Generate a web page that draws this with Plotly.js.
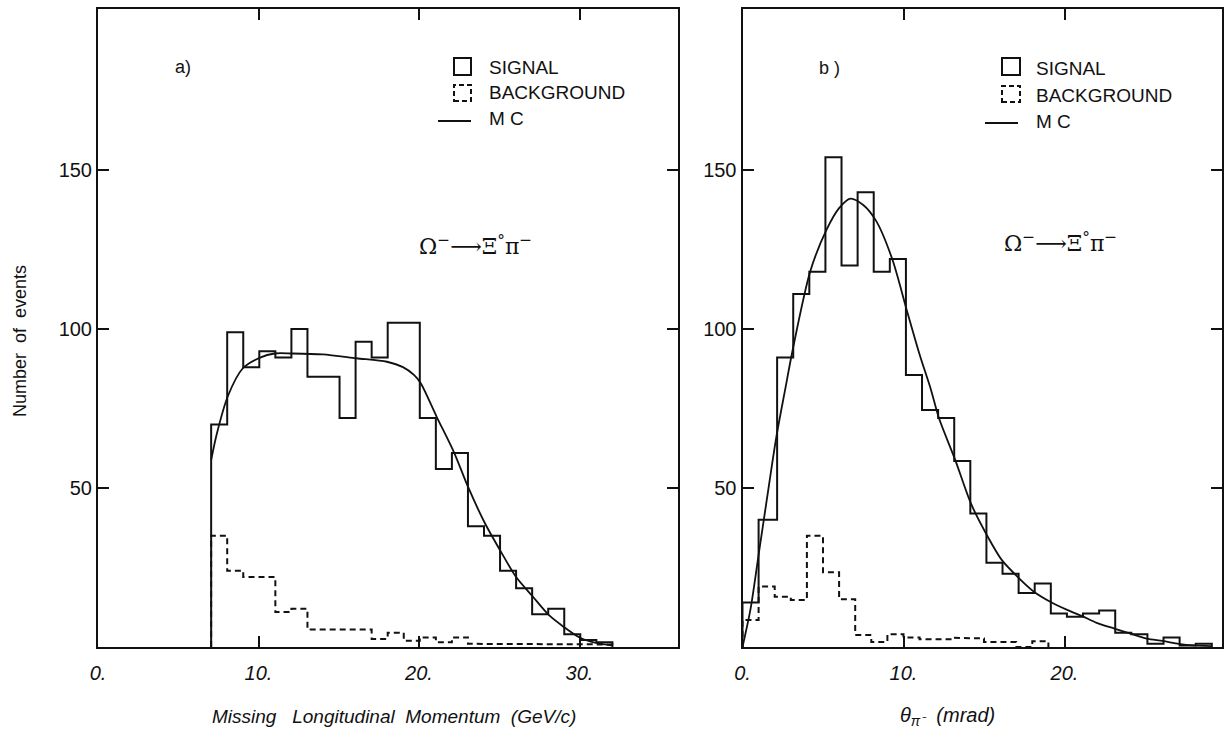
<!DOCTYPE html>
<html>
<head>
<meta charset="utf-8">
<script src="https://cdn.plot.ly/plotly-3.0.1.min.js"></script>
<style>html,body{margin:0;padding:0;background:#fff;}#chart{width:1224px;height:735px;}</style>
</head>
<body>
<div id="chart"></div>
<script>
// ---------- Panel a: missing longitudinal momentum (GeV/c) ----------
const aBinEdges = [7.05,8.05,9.05,10.05,11.05,12.05,13.05,14.05,15.05,16.05,17.05,18.05,19.05,20.05,21.05,22.05,23.05,24.05,25.05,26.05,27.05,28.05,29.05,30.05,31.05,32.05];
const aSignal = [70,99,88,93,91,100,85,85,72,96,91,102,102,72,56,61,38,35,24,18.5,10.3,12,4,2.2,1.5];
const aBackground = [35,24,22,22,11,12,5.5,5.5,5.5,5.5,2.5,4.5,2,3,1.5,3,1,0.8,0.8,0.8,0.8,0.8,0.8,0.8,0.8];
const aMCx = [7.06,7.4,8.1,9.0,10.1,11.0,12.1,14.0,16.1,18.0,19.0,19.7,20.1,21.1,22.2,23.05,24.1,25.1,26.05,27.1,28.1,29.0,30.0,31.1,32.0];
const aMCy = [59,67,79,87.5,91,92.3,92.3,92,90.8,89.7,88,85.5,83,72.4,61,50.4,39,30,22,15.8,10,6.4,3,1.2,0.5];

// ---------- Panel b: pion angle (mrad) ----------
const bSignalEdges = [0,1,2.15,3.15,4.15,5.15,6.15,7.15,8.15,9.15,10.15,11.15,12.15,13.15,14.15,15.15,16.15,17.15,18.15,19.15,20.15,21.15,22.15,23.15,24.15,25.15,26.15,27.15,28.15,29.15];
const bSignal = [14,40,91,111,118,154,120,143,118,122,85.5,74.5,72,58.5,42,26.5,23,17,20,10.5,9.5,10.5,11.5,4.5,4,1,3,0.5,1];
const bBackgroundEdges = [0,1,2,3,4,5,6,7,8,9,10,11,12,13,14,15,16,17,18,19];
const bBackground = [8.5,19,15.8,14.8,35,23.5,15,3.8,1.6,4,3,2.4,2.4,2.9,2.7,1.6,1.6,0,1.8];
const bMCx = [0,0.5,1.0,1.5,2.1,2.65,3.1,4.2,5.2,6.0,6.7,7.5,8.3,9.3,10.2,11.0,11.7,12.2,13.2,14.2,15.2,16.1,17.1,18.1,19.2,20.2,21.1,22.0,23.1,24.1,25.1,26.1,27.1,28.0,29.1];
const bMCy = [0,12,29,46,66,81,93,118,131,138,141,139,134,122,106,92,81,72,59,45,35,27.4,22,17.4,14,11.6,9.7,7.6,5.8,4.2,2.6,1.9,1,0.5,0.3];

// tick labels
const aTickVals = [0,10,20,30];
const aTickText = ["0.","10.","20.","30."];
const bTickVals = [0,10,20];
const bTickText = ["0.","10.","20."];
const yTickVals = [50,100,150];
const yTickText = ["50","100","150"];

const W = 1224, H = 735;
const px = x => x / W;
const py = y => 1 - y / H;
const INK = '#111';
const SANS = 'Liberation Sans, Arial, sans-serif';

function stepLine(edges, vals) {
  const x = [edges[0]], y = [0];
  for (let i = 0; i < vals.length; i++) {
    x.push(edges[i], edges[i + 1]);
    y.push(vals[i], vals[i]);
  }
  x.push(edges[vals.length]); y.push(0);
  return {x, y};
}

const aS = stepLine(aBinEdges, aSignal);
const aB = stepLine(aBinEdges, aBackground);
const bS = stepLine(bSignalEdges, bSignal);
const bB = stepLine(bBackgroundEdges, bBackground);

const traces = [
  {x: aS.x, y: aS.y, xaxis: 'x', yaxis: 'y', mode: 'lines', line: {color: INK, width: 2}},
  {x: aB.x, y: aB.y, xaxis: 'x', yaxis: 'y', mode: 'lines', line: {color: INK, width: 2, dash: '6px,4px'}},
  {x: aMCx, y: aMCy, xaxis: 'x', yaxis: 'y', mode: 'lines', line: {color: INK, width: 1.8, shape: 'spline', smoothing: 0.8}},
  {x: bS.x, y: bS.y, xaxis: 'x2', yaxis: 'y2', mode: 'lines', line: {color: INK, width: 2}},
  {x: bB.x, y: bB.y, xaxis: 'x2', yaxis: 'y2', mode: 'lines', line: {color: INK, width: 2, dash: '6px,4px'}},
  {x: bMCx, y: bMCy, xaxis: 'x2', yaxis: 'y2', mode: 'lines', line: {color: INK, width: 1.8, shape: 'spline', smoothing: 0.8}}
];

const tickFont = {family: SANS, size: 20, color: INK};
const axisCommon = {
  showline: true, linecolor: INK, linewidth: 2, mirror: 'ticks',
  ticks: 'inside', ticklen: 11, tickwidth: 2, tickcolor: INK,
  showgrid: false, zeroline: false, fixedrange: true
};

const yTop = 9, yBot = 647;
const yMax = (yBot - yTop) / 3.18;

const layout = {
  width: W, height: H,
  margin: {l: 0, r: 0, t: 0, b: 0},
  paper_bgcolor: '#fff', plot_bgcolor: '#fff',
  showlegend: false,
  xaxis: Object.assign({}, axisCommon, {
    domain: [px(98), px(678)], range: [0, (678 - 98) / 16.05],
    tickmode: 'array', tickvals: aTickVals, ticktext: aTickText,
    tickfont: Object.assign({}, tickFont, {style: 'italic'}), ticklabelstandoff: 7, anchor: 'y'
  }),
  yaxis: Object.assign({}, axisCommon, {
    domain: [py(yBot), py(yTop)], range: [0, yMax],
    tickmode: 'array', tickvals: yTickVals, ticktext: yTickText,
    tickfont: tickFont, ticklabelstandoff: 0, anchor: 'x'
  }),
  xaxis2: Object.assign({}, axisCommon, {
    domain: [px(742.5), px(1222)], range: [0, (1222 - 742.5) / 16.1],
    tickmode: 'array', tickvals: bTickVals, ticktext: bTickText,
    tickfont: Object.assign({}, tickFont, {style: 'italic'}), ticklabelstandoff: 7, anchor: 'y2'
  }),
  yaxis2: Object.assign({}, axisCommon, {
    domain: [py(yBot), py(yTop)], range: [0, yMax],
    tickmode: 'array', tickvals: yTickVals, ticktext: yTickText,
    tickfont: tickFont, ticklabelstandoff: 0, anchor: 'x2'
  }),
  shapes: [
    // legend a
    {type: 'rect', xref: 'paper', yref: 'paper', x0: px(454), x1: px(471), y0: py(75), y1: py(58), line: {color: INK, width: 2}},
    {type: 'rect', xref: 'paper', yref: 'paper', x0: px(454), x1: px(471), y0: py(101), y1: py(85), line: {color: INK, width: 2, dash: '5px,3px'}},
    {type: 'line', xref: 'paper', yref: 'paper', x0: px(438), x1: px(471), y0: py(121), y1: py(121), line: {color: INK, width: 1.8}},
    // legend b
    {type: 'rect', xref: 'paper', yref: 'paper', x0: px(1002), x1: px(1020), y0: py(75), y1: py(58), line: {color: INK, width: 2}},
    {type: 'rect', xref: 'paper', yref: 'paper', x0: px(1002), x1: px(1020), y0: py(102), y1: py(86), line: {color: INK, width: 2, dash: '5px,3px'}},
    {type: 'line', xref: 'paper', yref: 'paper', x0: px(985), x1: px(1018), y0: py(123), y1: py(123), line: {color: INK, width: 1.8}}
  ],
  annotations: []
};

function txt(x, y, text, opts) {
  layout.annotations.push(Object.assign({
    xref: 'paper', yref: 'paper', x: px(x), y: py(y), text: text, showarrow: false,
    xanchor: 'center', yanchor: 'middle',
    font: {family: SANS, size: 18, color: INK}
  }, opts || {}));
}

const legFont = {family: SANS, size: 19, color: INK};
txt(183, 67, 'a)', {font: {family: SANS, size: 18, color: INK}});
txt(829, 68, 'b )', {font: {family: SANS, size: 18, color: INK}});
txt(487, 67, 'SIGNAL', {xanchor: 'left', font: legFont});
txt(487, 93, 'BACKGROUND', {xanchor: 'left', font: legFont});
txt(487, 119, 'M C', {xanchor: 'left', font: legFont});
txt(1034, 68, 'SIGNAL', {xanchor: 'left', font: legFont});
txt(1034, 95, 'BACKGROUND', {xanchor: 'left', font: legFont});
txt(1034, 121, 'M C', {xanchor: 'left', font: legFont});
const formula = 'Ω<sup>−</sup>⟶Ξ<sup>°</sup>π<sup>−</sup>';
const fFont = {family: 'DejaVu Serif, Liberation Serif, serif', size: 22, color: INK};
txt(475, 245, formula, {font: fFont});
txt(1060, 242, formula, {font: fFont});
txt(20, 341, 'Number  of  events', {textangle: -90, font: {family: SANS, size: 18, color: INK}});
txt(394, 716, 'Missing   Longitudinal  Momentum  (GeV/c)', {font: {family: SANS, size: 19, color: INK, style: 'italic'}});
txt(947, 716, 'θ<sub>π⁻</sub>  (mrad)', {font: {family: SANS, size: 20, color: INK, style: 'italic'}});

Plotly.newPlot('chart', traces, layout, {displayModeBar: false, staticPlot: true});
</script>
</body>
</html>
